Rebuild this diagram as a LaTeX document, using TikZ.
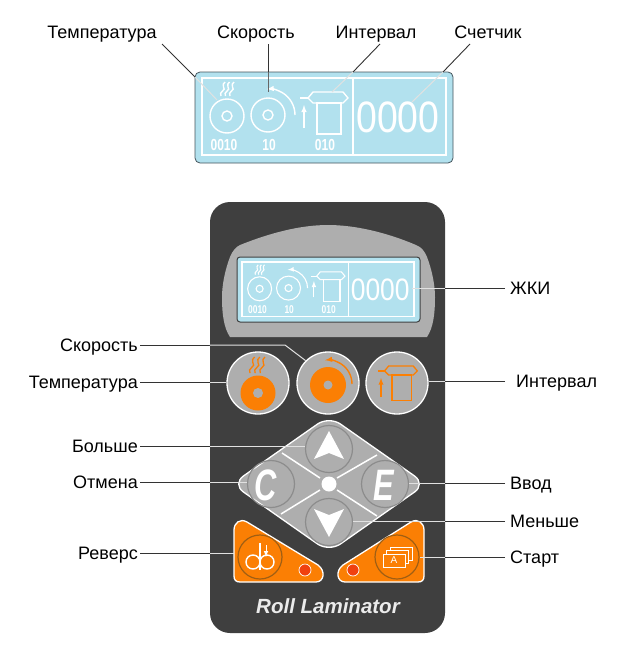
\documentclass[tikz,border=0pt]{standalone}
\usepackage{fontspec}
\setmainfont{Liberation Sans}
\definecolor{BodyClr}{RGB}{63,63,63}
\definecolor{PanelClr}{RGB}{174,174,174}
\definecolor{RingClr}{RGB}{140,140,140}
\definecolor{LcdClr}{RGB}{178,225,238}
\definecolor{LcdEdgeClr}{RGB}{70,85,92}
\definecolor{OrangeClr}{RGB}{251,127,4}
\definecolor{BrownClr}{RGB}{160,95,20}
\definecolor{LampClr}{RGB}{240,65,15}
\definecolor{LeadClr}{RGB}{225,225,225}
\tikzset{
  CaptionL/.style={anchor=east,inner sep=2pt,text height=13pt,text depth=0pt,font=\fontsize{18}{20}\selectfont},
  CaptionR/.style={anchor=west,inner sep=5pt,text height=13pt,text depth=0pt,font=\fontsize{18}{20}\selectfont},
  CaptionT/.style={inner sep=0pt,text height=13pt,text depth=0pt,font=\fontsize{18}{20}\selectfont},
  Lead/.style={line width=.9pt,color=black!80},
  LeadIn/.style={line width=1pt,color=LeadClr},
  RoundKey/.style={circle,minimum size=62pt,inner sep=0pt,fill=PanelClr,draw=white,line width=1.3pt},
  SoftKey/.style={circle,minimum size=47pt,inner sep=0pt,draw=RingClr,line width=1.2pt},
  OrangeKey/.style={circle,minimum size=44pt,inner sep=0pt,draw=BrownClr,line width=1.2pt},
  Lamp/.style={circle,minimum size=12pt,inner sep=0pt,fill=LampClr,draw=white,line width=.7pt},
  SmallNum/.style={font=\fontsize{16}{16}\selectfont\bfseries,inner sep=0pt},
}
\newcommand{\Steam}{
  \foreach \i in {0,4.5,9}
    \draw (\i,14) .. controls (\i-3,10) and (\i+6,8) .. (\i+2.5,5) .. controls (\i+1,3) and (\i+3,1) .. (\i+4,0);
}
\newcommand{\FeedIcon}{
  \draw (8,6) -- (13,0) -- (43,0) -- (48,6) -- (43,11) -- (13,11) -- cycle;
  \draw (0,6) -- (8,6);
  \draw (17,11) rectangle (41,42);
}
\newcommand{\LcdFace}{
  \draw (0,0) rectangle (244,77);
  \draw (151,0) -- (151,77);
  \draw (25,38) circle (17);
  \draw (25,38) circle (5);
  \begin{scope}[shift={(19,4)}]
    \Steam
  \end{scope}
  \draw (66,37) circle (17);
  \draw (66,37) circle (5);
  \draw[-latex] (93,37) arc (0:-95:26);
  \draw[-latex] (102,50) -- (102,27);
  \begin{scope}[shift={(98,14)}]
    \FeedIcon
  \end{scope}
  \node (NumTemp) [SmallNum] at (22,67) {\scalebox{.75}[1]{0010}};
  \node (NumSpeed) [SmallNum] at (67,67) {\scalebox{.75}[1]{10}};
  \node (NumGap) [SmallNum] at (123,67) {\scalebox{.75}[1]{010}};
  \node (NumCount) [inner sep=0pt,font=\fontsize{44}{44}\selectfont] at (196,39) {\scalebox{.85}[1]{0000}};
}
\begin{document}
\begin{tikzpicture}[x=1pt,y=-1pt]
\useasboundingbox (0,0) rectangle (627,659);

\draw[fill=LcdClr,draw=LcdEdgeClr,line width=.8pt,rounded corners=5] (195,72) rectangle (453,163);
\begin{scope}[shift={(202,78)},color=white,line width=1.4pt]
  \LcdFace
\end{scope}

\node (TopTemp) [CaptionT] at (102,32) {Температура};
\node (TopSpeed) [CaptionT] at (256,32) {Скорость};
\node (TopGap) [CaptionT] at (376,32) {Интервал};
\node (TopCount) [CaptionT] at (488,32) {Счетчик};
\coordinate (TempA) at (162,44);
\coordinate (TempB) at (195,77);
\coordinate (TempC) at (217,100);
\coordinate (SpeedA) at (268,44);
\coordinate (SpeedB) at (268,72);
\coordinate (SpeedC) at (268,92);
\coordinate (GapA) at (380,44);
\coordinate (GapB) at (353,72);
\coordinate (GapC) at (332,92);
\coordinate (CountA) at (470,44);
\coordinate (CountB) at (443,72);
\coordinate (CountC) at (412,102);
\draw[Lead] (TempA) -- (TempB);
\draw[Lead] (SpeedA) -- (SpeedB);
\draw[Lead] (GapA) -- (GapB);
\draw[Lead] (CountA) -- (CountB);
\draw[LeadIn] (TempB) -- (TempC);
\draw[LeadIn,color=black!60] (SpeedB) -- (SpeedC);
\draw[LeadIn] (GapB) -- (GapC);
\draw[LeadIn] (CountB) -- (CountC);

\node (Body) [rectangle,rounded corners=20,minimum width=235pt,minimum height=431pt,inner sep=0pt,fill=BodyClr] at (327.5,417.5) {};

\fill[PanelClr] (230,257) .. controls (233,250) and (236,247) .. (240,245) .. controls (270,233) and (300,225) .. (328,225) .. controls (356,225) and (388,233) .. (416,245) .. controls (421,247) and (424,250) .. (427,257) .. controls (432,270) and (435,285) .. (435,297) .. controls (435,315) and (433,328) .. (427,337) -- (230,337) .. controls (224,328) and (222,315) .. (222,297) .. controls (222,285) and (225,270) .. (230,257) -- cycle;
\draw[fill=LcdClr,draw=black!75,line width=1pt,rounded corners=3] (237,257) rectangle (420,322);
\begin{scope}[shift={(242,262)},scale=.705,transform shape,color=white,line width=1.1pt]
  \LcdFace
\end{scope}

\node (KeyTemp) [RoundKey] at (258,383) {};
\node (KeySpeed) [RoundKey] at (328,383) {};
\node (KeyGap) [RoundKey] at (397,383) {};

\fill[OrangeClr] (258,393) circle (17.5);
\fill[PanelClr] (258,393) circle (5);
\begin{scope}[shift={(250,357)},scale=1.15,color=OrangeClr,line width=1.3pt]
  \Steam
\end{scope}
\fill[OrangeClr] (328,385) circle (18);
\fill[PanelClr] (328,385) circle (4.5);
\draw[-latex,OrangeClr,line width=1.4pt] (352,384) arc (0:-97:24);
\begin{scope}[shift={(378,366)},scale=.82,color=OrangeClr,line width=1.3pt]
  \FeedIcon
\end{scope}
\draw[-latex,OrangeClr,line width=1.3pt] (381,397) -- (381,378);

\draw[fill=PanelClr,draw=white,line width=1.3pt,rounded corners=14] (329,416) -- (232,484) -- (329,552) -- (426,484) -- cycle;
\draw[white,line width=1.5pt] (282,453) -- (320,478);
\draw[white,line width=1.5pt] (377,455) -- (337,478);
\draw[white,line width=1.5pt] (281,514) -- (320,490);
\draw[white,line width=1.5pt] (377,516) -- (337,490);
\fill[white] (329,484) circle (7.5);

\node (KeyUp) [SoftKey] at (329,449) {};
\node (KeyC) [SoftKey] at (271,484) {};
\node (KeyE) [SoftKey] at (385,484) {};
\node (KeyDown) [SoftKey] at (329,522) {};
\fill[white] (329,431) -- (344,459) -- (329,453) -- (314,459) -- cycle;
\fill[white] (329,537) -- (344,509) -- (329,515) -- (314,509) -- cycle;
\node (CharC) [white,inner sep=0pt,font=\fontsize{44}{44}\selectfont\bfseries\itshape] at (266,485) {\scalebox{.7}[1]{C}};
\node (CharE) [white,inner sep=0pt,font=\fontsize{44}{44}\selectfont\bfseries\itshape] at (384,485) {\scalebox{.7}[1]{E}};

\draw[fill=OrangeClr,draw=white,line width=1.3pt] (234,530) .. controls (234,523) and (240,518) .. (247,522) -- (318,565) .. controls (326,571) and (324,582) .. (316,582) -- (240,582) .. controls (236,582) and (234,580) .. (234,576) -- cycle;
\draw[fill=OrangeClr,draw=white,line width=1.3pt] (424,530) .. controls (424,523) and (418,518) .. (411,522) -- (343,565) .. controls (335,571) and (337,582) .. (345,582) -- (418,582) .. controls (422,582) and (424,580) .. (424,576) -- cycle;

\node (KeyReverse) [OrangeKey] at (260,557) {};
\node (KeyStart) [OrangeKey] at (397,557) {};
\node (LampL) [Lamp] at (305,570) {};
\node (LampR) [Lamp] at (353,570) {};

\draw[white,line width=1.4pt] (253,562) circle (7);
\draw[white,line width=1.4pt] (267,562) circle (7);
\draw[white,line width=1.4pt] (260,543) -- (260,570);
\draw[-latex,white,line width=1pt] (266,545) -- (266,557);

\draw[fill=OrangeClr,draw=white,line width=1pt] (390,547) rectangle (412,560);
\draw[fill=OrangeClr,draw=white,line width=1pt] (386.5,550.5) rectangle (408.5,563.5);
\draw[fill=OrangeClr,draw=white,line width=1pt] (383,554) rectangle (405,567);
\node (CharA) [white,inner sep=0pt,font=\fontsize{10}{10}\selectfont] at (394,560.5) {A};

\node (Brand) [color=white!92!black,inner sep=0pt,font=\fontsize{20.5}{22}\selectfont\bfseries\itshape] at (328,606) {Roll Laminator};

\node (LblLcd) [CaptionR] at (505,288) {ЖКИ};
\node (LblSpeed) [CaptionL] at (140,345) {Скорость};
\node (LblTemp) [CaptionL] at (140,382) {Температура};
\node (LblGap) [CaptionR,inner sep=11pt] at (505,381) {Интервал};
\node (LblMore) [CaptionL] at (140,446) {Больше};
\node (LblCancel) [CaptionL] at (140,482) {Отмена};
\node (LblEnter) [CaptionR] at (505,483) {Ввод};
\node (LblLess) [CaptionR] at (505,521) {Меньше};
\node (LblReverse) [CaptionL] at (140,553) {Реверс};
\node (LblStart) [CaptionR] at (505,557) {Старт};
\coordinate (SpeedBend) at (285,345);
\coordinate (LcdEnd) at (412,288);
\coordinate (ReverseEnd) at (234,553);

\draw[Lead] (LblSpeed.east) -- (Body.west |- SpeedBend);
\draw[LeadIn] (Body.west |- SpeedBend) -- (SpeedBend) -- (KeySpeed.135);
\draw[Lead] (LblTemp.east) -- (Body.west |- LblTemp.east);
\draw[LeadIn] (Body.west |- LblTemp.east) -- (KeyTemp.west |- LblTemp.east);
\draw[Lead] (LblMore.east) -- (Body.west |- LblMore.east);
\draw[LeadIn] (Body.west |- LblMore.east) -- (KeyUp.west |- LblMore.east);
\draw[Lead] (LblCancel.east) -- (Body.west |- LblCancel.east);
\draw[LeadIn] (Body.west |- LblCancel.east) -- (KeyC.west |- LblCancel.east);
\draw[Lead] (LblReverse.east) -- (Body.west |- LblReverse.east);
\draw[LeadIn] (Body.west |- LblReverse.east) -- (ReverseEnd);

\draw[Lead] (LblLcd.west) -- (Body.east |- LblLcd.west);
\draw[LeadIn] (Body.east |- LblLcd.west) -- (LcdEnd);
\draw[Lead] (LblGap.west) -- (Body.east |- LblGap.west);
\draw[LeadIn] (Body.east |- LblGap.west) -- (KeyGap.east |- LblGap.west);
\draw[Lead] (LblEnter.west) -- (Body.east |- LblEnter.west);
\draw[LeadIn] (Body.east |- LblEnter.west) -- (KeyE.east |- LblEnter.west);
\draw[Lead] (LblLess.west) -- (Body.east |- LblLess.west);
\draw[LeadIn] (Body.east |- LblLess.west) -- (KeyDown.east |- LblLess.west);
\draw[Lead] (LblStart.west) -- (Body.east |- LblStart.west);
\draw[LeadIn] (Body.east |- LblStart.west) -- (KeyStart.east |- LblStart.west);
\end{tikzpicture}
\end{document}
